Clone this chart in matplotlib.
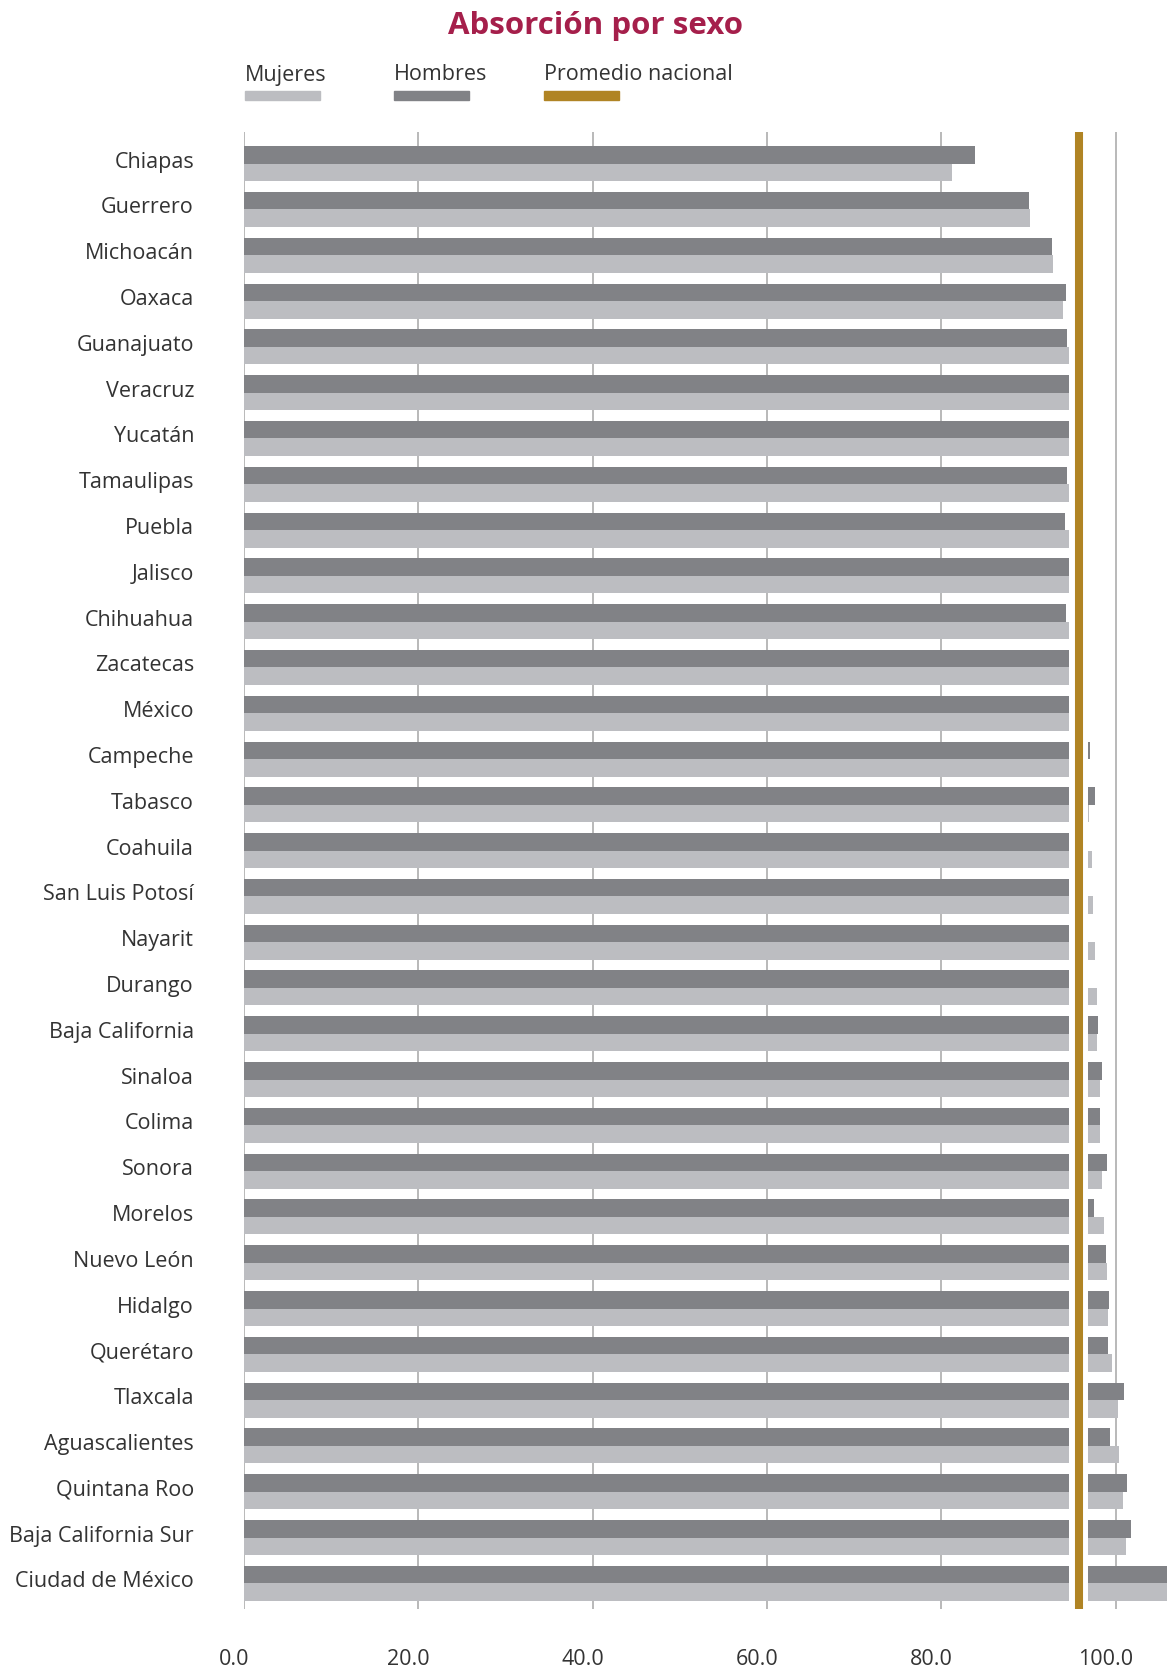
import matplotlib
matplotlib.use("Agg")
import matplotlib.pyplot as plt
import matplotlib.transforms as mtransforms
from matplotlib.patches import Rectangle
import numpy as np

plt.rcParams["font.family"] = ["Open Sans", "DejaVu Sans"]

# --- data -------------------------------------------------------------------
estados = [
    "Chiapas", "Guerrero", "Michoacán", "Oaxaca", "Guanajuato", "Veracruz",
    "Yucatán", "Tamaulipas", "Puebla", "Jalisco", "Chihuahua", "Zacatecas",
    "México", "Campeche", "Tabasco", "Coahuila", "San Luis Potosí", "Nayarit",
    "Durango", "Baja California", "Sinaloa", "Colima", "Sonora", "Morelos",
    "Nuevo León", "Hidalgo", "Querétaro", "Tlaxcala", "Aguascalientes",
    "Quintana Roo", "Baja California Sur", "Ciudad de México",
]
hombres = [
    83.9, 90.1, 92.7, 94.3, 94.4, 95.9, 96.0, 94.4, 94.2, 95.6, 94.3, 96.3,
    96.5, 97.1, 97.6, 96.7, 96.85, 96.7, 96.6, 98.0, 98.4, 98.2, 99.0, 97.5,
    98.9, 99.2, 99.1, 100.9, 99.4, 101.3, 101.7, 107.5,
]
mujeres = [
    81.2, 90.2, 92.8, 94.0, 94.7, 96.1, 96.2, 95.2, 95.0, 96.0, 95.3, 96.4,
    96.6, 96.7, 96.95, 97.3, 97.4, 97.6, 97.8, 97.9, 98.2, 98.2, 98.4, 98.7,
    99.0, 99.1, 99.6, 100.3, 100.4, 100.8, 101.2, 108.0,
]
promedio_nacional = 95.77
hueco = (94.70, 96.83)   # white band around the national average line
xticks = [0, 20, 40, 60, 80, 100]

C_MUJ = "#bcbdc1"
C_HOM = "#818286"
C_PROM = "#b08424"
C_TIT = "#a51f4b"
C_TXT = "#333333"

W, H = 1167, 1675
X0 = 244                      # pixel of value 0
PX_PER_UNIT = (1115.7 - X0) / 100
fig = plt.figure(figsize=(W / 100, H / 100), dpi=100)
ax = fig.add_axes([X0 / W, 1 - 1609 / H, 1 - X0 / W, (1609 - 132) / H])

y = np.arange(len(estados))
bh = 0.382
ax.barh(y - bh / 2, hombres, height=bh, color=C_HOM, zorder=2)
ax.barh(y + bh / 2, mujeres, height=bh, color=C_MUJ, zorder=2)
ax.axvspan(hueco[0], hueco[1], color="white", lw=0, zorder=3)
ax.axvline(promedio_nacional, color=C_PROM, lw=5.8, zorder=4)

ax.set_xlim(0, (W - X0) / PX_PER_UNIT)
ax.set_ylim(len(estados) - 1 + 0.561, -0.692)
ax.set_xticks(xticks)
ax.set_xticklabels([f"{v:.1f}" for v in xticks], fontsize=15.5, color=C_TXT)
ax.set_yticks(y)
ax.set_yticklabels(estados, fontsize=15.5, color=C_TXT)
ax.tick_params(axis="x", length=0, pad=29)
ax.tick_params(axis="y", length=0, pad=36)
off_x = mtransforms.ScaledTranslation(-10 / 100, 0, fig.dpi_scale_trans)
for lab in ax.get_xticklabels():
    lab.set_transform(lab.get_transform() + off_x)
off_y = mtransforms.ScaledTranslation(0, 4 / 100, fig.dpi_scale_trans)
for lab in ax.get_yticklabels():
    lab.set_transform(lab.get_transform() + off_y)
ax.grid(axis="x", color="#a6a6a6", lw=1.1, zorder=0)
ax.set_axisbelow(True)
for s in ax.spines.values():
    s.set_visible(False)

# title
fig.text(595 / W, 1 - 26 / H, "Absorción por sexo", ha="center", va="center",
         fontsize=22.5, fontweight="bold", color=C_TIT)

# legend drawn by hand
legend_items = [("Mujeres", C_MUJ, 245), ("Hombres", C_HOM, 394),
                ("Promedio nacional", C_PROM, 544)]
for label, color, x0 in legend_items:
    fig.text(x0 / W, 1 - 75 / H, label, ha="left", va="center",
             fontsize=15.5, color=C_TXT)
    fig.patches.append(Rectangle((x0 / W, 1 - 100 / H), 75 / W, 9 / H,
                                 transform=fig.transFigure, color=color))

fig.savefig("out.png", dpi=100)
